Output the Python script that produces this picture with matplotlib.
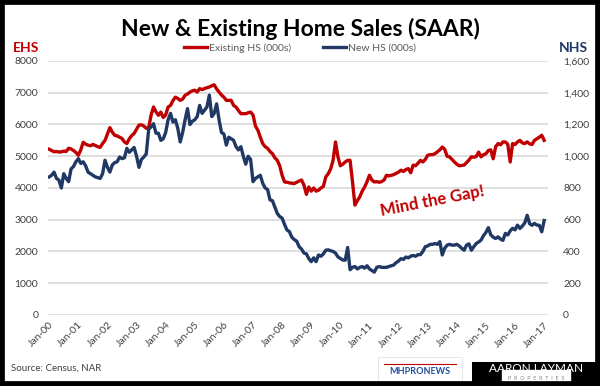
import matplotlib.pyplot as plt
from matplotlib.patches import Rectangle
from matplotlib.ticker import FuncFormatter
import numpy as np

plt.rcParams['font.family'] = ['Lato', 'DejaVu Sans']

# Monthly, Jan-2000 .. Jan-2017 (thousands, SAAR)
existing_hs = [
    5220, 5180, 5140, 5150, 5130, 5140, 5160, 5150, 5250, 5230, 5180, 5120,
    5030, 5200, 5440, 5380, 5350, 5330, 5370, 5340, 5300, 5280, 5400, 5500,
    5700, 5900, 5760, 5660, 5640, 5600, 5560, 5450, 5400, 5550, 5650, 5720,
    5850, 5980, 5990, 5950, 5880, 5900, 6300, 6550, 6400, 6290, 6390, 6220,
    6300, 6550, 6600, 6750, 6860, 6820, 6760, 6800, 6920, 6960, 7020, 7060,
    7080, 7020, 7130, 7100, 7130, 7160, 7180, 7220, 7250, 7120, 7020, 6930,
    6860, 6760, 6760, 6760, 6600, 6550, 6440, 6340, 6340, 6340, 6370, 6390,
    6300, 5950, 5820, 5600, 5400, 5300, 5250, 5150, 5080, 4950, 4870, 4700,
    4400, 4190, 4180, 4160, 4150, 4140, 4180, 4220, 4250, 4090, 3800, 4030,
    3900, 4000, 3900, 3930, 4000, 4050, 4350, 4450, 4600, 4870, 5450, 4980,
    4700, 4750, 4820, 4870, 4870, 4200, 3460, 3600, 3720, 3900, 4030, 4200,
    4400, 4250, 4190, 4200, 4180, 4200, 4250, 4400, 4380, 4400, 4420, 4460,
    4500, 4560, 4520, 4580, 4610, 4480, 4720, 4700, 4780, 4870, 4820, 4900,
    5030, 5050, 5050, 5080, 5140, 5200, 5290, 5220, 5000, 4980, 4900, 4820,
    4750, 4700, 4710, 4720, 4800, 4880, 4980, 4970, 4990, 5130, 4980, 5050,
    5080, 5180, 5200, 4920, 5300, 5400, 5360, 5450, 5450, 5380, 4820, 5400,
    5370, 5450, 5500, 5420, 5400, 5450, 5390, 5370, 5500, 5550, 5600, 5660,
    5500,
]
new_hs = [
    870, 880, 900, 860, 850, 800, 890, 860, 840, 920, 935, 965,
    985, 955, 965, 940, 900, 890, 880, 870, 865, 860, 890, 975,
    930, 900, 945, 960, 965, 995, 985, 990, 1050, 1025, 1040, 1055,
    1000, 930, 980, 995, 1015, 1170, 1185, 1205, 1145, 1145, 1100, 1110,
    1150, 1230, 1270, 1215, 1230, 1175, 1090, 1150, 1230, 1300, 1200, 1220,
    1230, 1250, 1320, 1270, 1290, 1310, 1385, 1250, 1270, 1330, 1230, 1150,
    1140, 1070, 1120, 1110, 1100, 1060, 1040, 1060, 1000, 950, 1000, 980,
    840, 860, 870, 880, 830, 800, 790, 725, 720, 680, 640, 620,
    610, 570, 535, 525, 490, 475, 465, 430, 415, 390, 385, 355,
    336, 360, 336, 378, 370, 385, 408, 410, 405, 400, 390, 366,
    356, 346, 345, 425, 285, 300, 305, 290, 300, 305, 295, 310,
    290, 280, 270, 300, 305, 300, 300, 300, 305, 310, 315, 330,
    340, 355, 350, 365, 360, 370, 375, 370, 380, 380, 400, 430,
    435, 445, 445, 450, 445, 462, 378, 420, 440, 445, 440, 440,
    445, 435, 420, 408, 440, 448, 408, 430, 450, 460, 472, 500,
    520, 550, 505, 490, 482, 492, 478, 470, 514, 504, 530, 546,
    536, 566, 545, 560, 580, 628, 575, 565, 577, 566, 565, 524,
    595,
]
year_labels = ['Jan-%02d' % y for y in range(0, 18)]

red = '#c00000'
navy = '#1f3864'
grey = '#595959'

fig = plt.figure(figsize=(6, 3.86), dpi=100)
ax = fig.add_axes([0.08, 0.184, 0.833, 0.658])
ax2 = ax.twinx()

months = np.arange(len(existing_hs))
ax.plot(months, existing_hs, color=red, lw=2.4, label='Existing HS (000s)', zorder=3)
ax2.plot(months, new_hs, color=navy, lw=2.4, label='New HS (000s)', zorder=3)

ax.set_ylim(0, 8000)
ax2.set_ylim(0, 1600)
ax.set_yticks(range(0, 8001, 1000))
ax2.set_yticks(range(0, 1601, 200))
ax2.yaxis.set_major_formatter(FuncFormatter(lambda v, p: '{:,.0f}'.format(v)))
ax.set_xlim(-0.5, len(existing_hs) + 0.5)
ax.set_xticks(np.arange(0, len(year_labels) * 12, 12))
ax.set_xticklabels(year_labels, rotation=45, ha='right', rotation_mode='anchor')

ax.grid(axis='y', color='#d9d9d9', lw=1.2)
ax.set_axisbelow(True)
for a in (ax, ax2):
    for s in a.spines.values():
        s.set_visible(False)
    a.tick_params(length=0, labelsize=7.5, colors='#404040', pad=7)
ax.tick_params(axis='x', pad=4)
ax2.tick_params(pad=11)

fig.text(0.5, 0.925, 'New & Existing Home Sales (SAAR)', ha='center', va='center',
         fontsize=16.5, fontweight='bold', color='black')
fig.text(0.022, 0.875, 'EHS', ha='left', va='center', fontsize=10, fontweight='bold', color=red)
fig.text(0.98, 0.875, 'NHS', ha='right', va='center', fontsize=10, fontweight='bold', color=navy)

h1, l1 = ax.get_legend_handles_labels()
h2, l2 = ax2.get_legend_handles_labels()
fig.legend(h1 + h2, l1 + l2, loc='center', bbox_to_anchor=(0.5, 0.875), ncol=2, frameon=False,
           fontsize=7.5, handlelength=2.2, handletextpad=0.2, columnspacing=3, labelcolor=grey)

ax.text(0.77, 0.45, 'Mind the Gap!', transform=ax.transAxes, ha='center', va='center',
        rotation=11, fontsize=12, fontweight='bold', color=red)

fig.text(0.018, 0.047, 'Source: Census, NAR', ha='left', va='center', fontsize=7, color='#404040')

# logos
fig.patches.append(Rectangle((378 / 600, 0), 84 / 600, 29 / 386, transform=fig.transFigure,
                             facecolor='white', edgecolor='#dddddd', lw=0.5, zorder=5))
fig.lines.append(plt.Line2D([384 / 600, 456 / 600], [22 / 386, 22 / 386], transform=fig.transFigure,
                            color=red, lw=0.8, zorder=6))
fig.text(420 / 600, 14 / 386, 'MHPRONEWS', ha='center', va='center', fontsize=6.5,
         fontweight='bold', color='#1f4e99', zorder=6)
fig.patches.append(Rectangle((472 / 600, 0), 128 / 600, 24 / 386, transform=fig.transFigure,
                             facecolor='black', edgecolor='none', zorder=5))
fig.text(536 / 600, 17 / 386, 'AARON LAYMAN', ha='center', va='center', fontsize=8.5,
         color='white', zorder=6)
fig.text(536 / 600, 7.5 / 386, 'P  R  O  P  E  R  T  I  E  S', ha='center', va='center', fontsize=4,
         color='#888888', zorder=6, backgroundcolor='white')

# frame
fig.patches.append(Rectangle((0, 0), 1, 1, transform=fig.transFigure, fill=False,
                             edgecolor='black', lw=7, zorder=10))

fig.savefig('out.png', dpi=100)
